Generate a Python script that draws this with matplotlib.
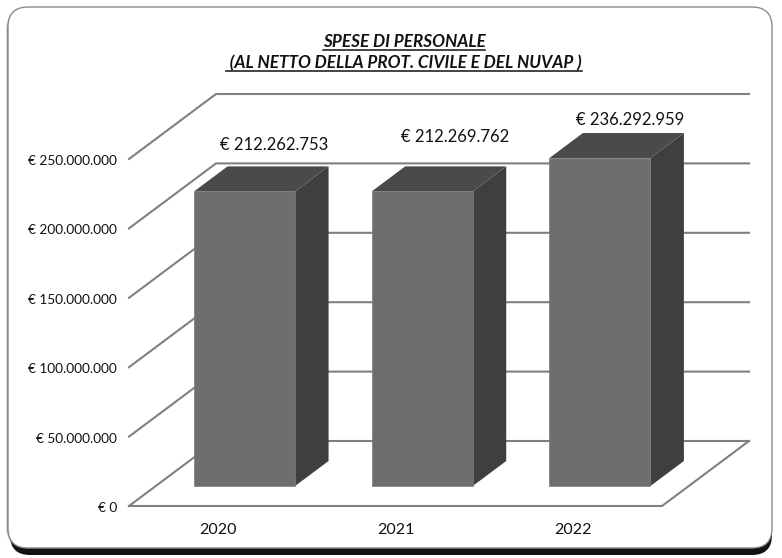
import matplotlib
matplotlib.use('Agg')
import matplotlib.pyplot as plt
from matplotlib.patches import FancyBboxPatch, Polygon

plt.rcParams['font.family'] = ['Lato', 'DejaVu Sans']

W, H = 782, 558

years = ['2020', '2021', '2022']
spese = [212262753, 212269762, 236292959]
bar_labels = ['€ 212.262.753', '€ 212.269.762', '€ 236.292.959']
y_ticks = [0, 50000000, 100000000, 150000000, 200000000, 250000000]
y_labels = ['€ 0', '€ 50.000.000', '€ 100.000.000', '€ 150.000.000', '€ 200.000.000', '€ 250.000.000']
title_lines = ['SPESE DI PERSONALE', ' (AL NETTO DELLA PROT. CIVILE E DEL NUVAP )']

GRID = '#808080'
FRONT = '#6e6e6e'
TOP = '#4a4a4a'
SIDE = '#3f3f3f'

# one category = 177.67 px, 250M = 347 px
cat_px = 177.67
eur_px = 250000000 / 347
# the oblique depth of the floor
depth_x = 87 / cat_px
depth_y = 65 * eur_px


def proj(x, y, d=0.0):
    return x + d * depth_x, y + d * depth_y


fig = plt.figure(figsize=(W / 100, H / 100), dpi=100, facecolor='white')

# card behind the chart, in pixels
bg = fig.add_axes([0, 0, 1, 1])
bg.set_xlim(0, W)
bg.set_ylim(H, 0)
bg.axis('off')
for off, col, al in [(0, '#000000', 0.15), (1, '#000000', 0.35)]:
    bg.add_patch(FancyBboxPatch((6 + off, 10), 764, 537, boxstyle='round,pad=0,rounding_size=20',
                                fc=col, ec='none', alpha=al))
bg.add_patch(FancyBboxPatch((10, 14), 762, 541, boxstyle='round,pad=0,rounding_size=20',
                            fc='#111111', ec='none'))
bg.add_patch(FancyBboxPatch((8, 7), 764, 541, boxstyle='round,pad=0,rounding_size=20',
                            fc='white', ec='#8c8c8c', lw=1))

ax = fig.add_axes([0, 0, 1, 1])
ax.patch.set_alpha(0)
ax.set_xlim(-217.83 / cat_px, (W - 217.83) / cat_px)
ax.set_ylim(-52 * eur_px, (H - 52) * eur_px)
ax.axis('off')

x0, x1 = -0.5, 2.5

# walls
for t, lab in zip(y_ticks, y_labels):
    a = proj(x0, t)
    b = proj(x0, t, 1)
    c = proj(x1, t, 1)
    ax.plot([a[0], b[0], c[0]], [a[1], b[1], c[1]], color=GRID, lw=1.5, zorder=1, solid_joinstyle='miter')
    ax.annotate(lab, a, xytext=(-12, -2), textcoords='offset pixels', ha='right', va='center',
                fontsize=9.8, color='#111111')

# floor
fl = [proj(x0, 0), proj(x1, 0), proj(x1, 0, 1)]
ax.plot([p[0] for p in fl], [p[1] for p in fl], color=GRID, lw=1.5, zorder=1)

# bars as three faces each
hw = 101 / cat_px / 2
d0, d1 = 20 / 65, 45 / 65
for i, v in enumerate(spese):
    l, r = i - hw, i + hw
    front = [proj(l, 0, d0), proj(r, 0, d0), proj(r, v, d0), proj(l, v, d0)]
    top = [proj(l, v, d0), proj(r, v, d0), proj(r, v, d1), proj(l, v, d1)]
    side = [proj(r, 0, d0), proj(r, 0, d1), proj(r, v, d1), proj(r, v, d0)]
    ax.add_patch(Polygon(side, fc=SIDE, ec='none', zorder=3))
    ax.add_patch(Polygon(top, fc=TOP, ec='none', zorder=3))
    ax.add_patch(Polygon(front, fc=FRONT, ec='#7a7a7a', lw=0.5, zorder=4))
    ax.annotate(years[i], proj(i, 0), xytext=(0, -24), textcoords='offset pixels', ha='center', va='center',
                fontsize=11.5, color='#111111')

# data labels sit at their own spots, not on the bars
lab_off = [(47, 21), (50, 29), (47, 13)]
for i, v in enumerate(spese):
    tip = proj(i - hw, v, d1)
    ax.annotate(bar_labels[i], tip, xytext=lab_off[i], textcoords='offset pixels', ha='center', va='center',
                fontsize=12, color='#111111', zorder=5)

# title with drawn underline
fig.canvas.draw()
r = fig.canvas.get_renderer()
for line, y in zip(title_lines, [42, 63]):
    t = bg.text(404, y, line, ha='center', va='center', fontsize=12.3, fontweight='bold', fontstyle='italic',
                color='#111111')
    box = t.get_window_extent(r)
    bg.plot([box.x0, box.x1], [y + 8, y + 8], color='#111111', lw=1.1)

fig.savefig('out.png', dpi=100, facecolor='white')
